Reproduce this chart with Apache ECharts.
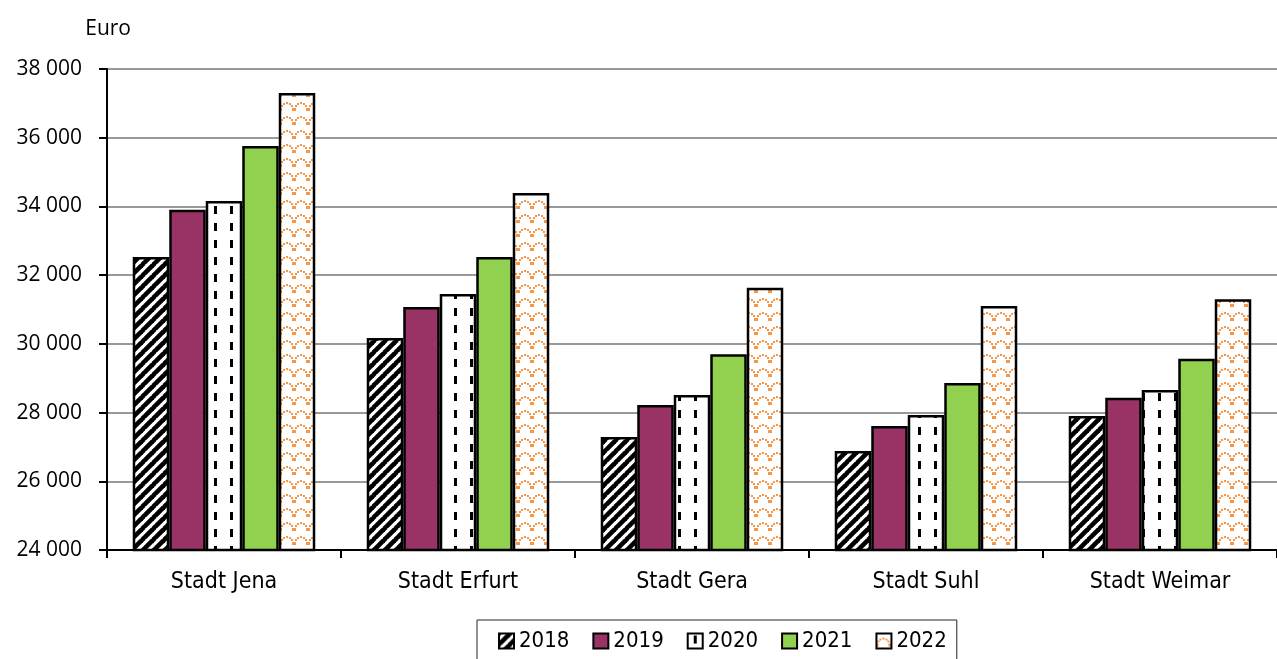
<!DOCTYPE html>
<html>
<head>
<meta charset="utf-8">
<script src="https://cdn.jsdelivr.net/npm/echarts@6/dist/echarts.min.js"></script>
<style>
  html, body { margin: 0; padding: 0; background: #fff; }
  #chart { width: 1277px; height: 659px; }
</style>
</head>
<body>
<div id="chart"></div>
<script>
const categories = ['Stadt Jena', 'Stadt Erfurt', 'Stadt Gera', 'Stadt Suhl', 'Stadt Weimar']
const years = ['2018', '2019', '2020', '2021', '2022']
const v2018 = [32530, 30170, 27290, 26880, 27900]
const v2019 = [33900, 31070, 28220, 27610, 28430]
const v2020 = [34160, 31450, 28510, 27930, 28660]
const v2021 = [35760, 32530, 29700, 28860, 29570]
const v2022 = [37300, 34390, 31630, 31100, 31300]
const yTicks = [24000, 26000, 28000, 30000, 32000, 34000, 36000, 38000]

// small canvas tiles used as fill patterns
const makeTile = (w, h, draw) => {
  const c = document.createElement('canvas')
  c.width = w
  c.height = h
  const ctx = c.getContext('2d')
  ctx.fillStyle = '#fff'
  ctx.fillRect(0, 0, w, h)
  draw(ctx)
  return c
}

const stripeTile = makeTile(11, 11, ctx => {
  ctx.strokeStyle = '#000'
  ctx.lineWidth = 4.6
  for (let k = -11; k <= 22; k += 11) {
    ctx.beginPath()
    ctx.moveTo(k - 1, 12)
    ctx.lineTo(k + 12, -1)
    ctx.stroke()
  }
})

const dashTile = makeTile(16, 17, ctx => {
  ctx.fillStyle = '#000'
  ctx.fillRect(6, 2, 3, 8)
})

// dotted arches like the orange scale pattern
const scaleTile = makeTile(14, 14, ctx => {
  ctx.fillStyle = '#f79646'
  for (let a = 0; a <= 6; a++) {
    const t = Math.PI + (a / 6) * Math.PI
    const x = 7 + 6 * Math.cos(t)
    const y = 11 + 6 * Math.sin(t)
    ctx.fillRect(Math.round(x) - 1, Math.round(y) - 1, 2, 2)
  }
  ctx.fillRect(0, 11, 2, 2)
  ctx.fillRect(12, 11, 2, 2)
})

const fills = [
  { image: stripeTile, repeat: 'repeat' },
  '#993366',
  { image: dashTile, repeat: 'repeat' },
  '#92d050',
  { image: scaleTile, repeat: 'repeat' }
]
const values = [v2018, v2019, v2020, v2021, v2022]

const chart = echarts.init(document.getElementById('chart'))

const option = {
  animation: false,
  grid: { left: 107, right: 0, top: 69, bottom: 109 },
  legend: {
    top: 620,
    left: 477,
    data: years,
    itemWidth: 15,
    itemHeight: 15,
    itemGap: 23,
    padding: [10, 10, 14, 21],
    borderColor: '#222',
    borderWidth: 1,
    icon: 'rect',
    textStyle: { fontFamily: 'DejaVu Sans Condensed', fontSize: 22, color: '#000' }
  },
  xAxis: {
    type: 'category',
    data: categories,
    axisLine: { lineStyle: { color: '#000', width: 2 } },
    axisTick: { show: true, length: 8, lineStyle: { color: '#000', width: 2 } },
    axisLabel: { fontFamily: 'DejaVu Sans Condensed', fontSize: 23, color: '#000', margin: 21 }
  },
  yAxis: {
    type: 'value',
    min: 24000,
    max: 38000,
    interval: 2000,
    name: 'Euro',
    nameLocation: 'end',
    nameGap: 29,
    nameTextStyle: { fontFamily: 'Open Sans', fontSize: 21, color: '#000', align: 'right', padding: [0, -24, 0, 0] },
    axisLine: { show: true, lineStyle: { color: '#000', width: 2 } },
    axisTick: { show: true, length: 8, lineStyle: { color: '#000', width: 2 } },
    splitLine: { lineStyle: { color: '#999', width: 2 } },
    axisLabel: {
      fontFamily: 'Open Sans',
      fontSize: 21,
      color: '#000',
      margin: 25,
      formatter: v => yTicks.includes(v) ? String(v).replace(/\B(?=(\d{3})+(?!\d))/g, ' ') : ''
    }
  },
  series: years.map((y, i) => ({
    name: y,
    type: 'bar',
    data: values[i],
    barGap: '0%',
    barCategoryGap: '22%',
    itemStyle: { color: fills[i], borderColor: '#000', borderWidth: 2.5 }
  }))
}

chart.setOption(option)
</script>
</body>
</html>
